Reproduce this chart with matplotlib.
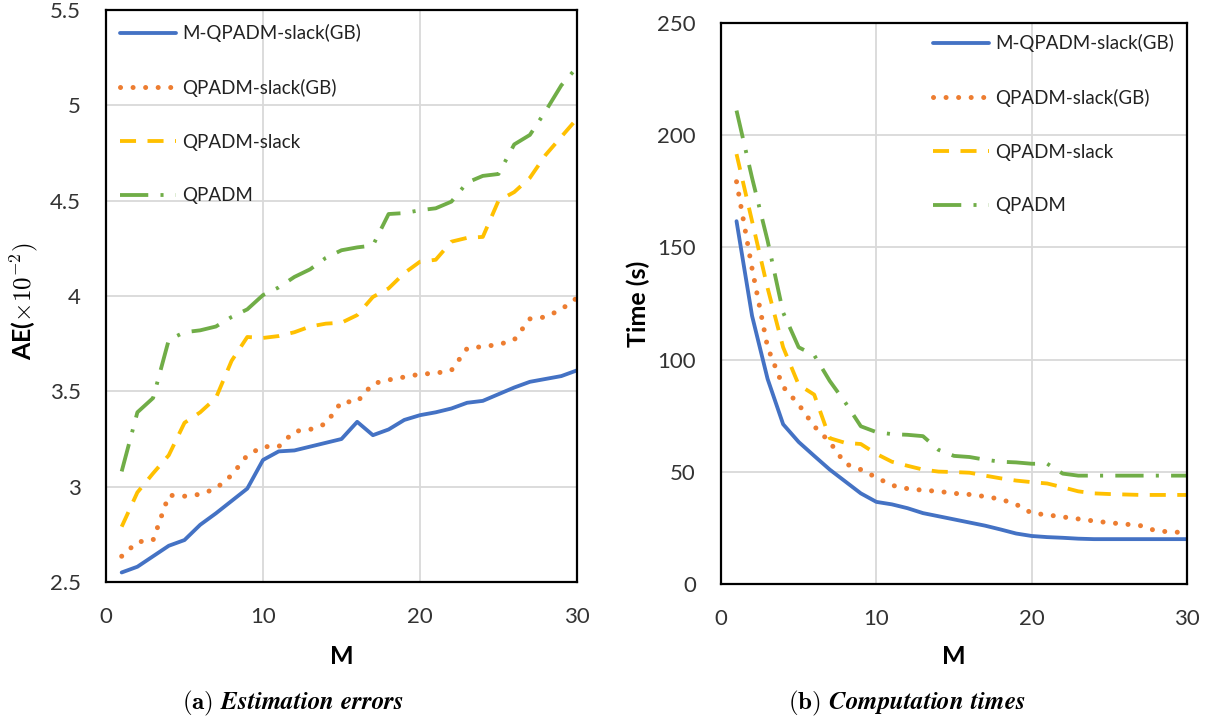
#!/usr/bin/env python3
import matplotlib
matplotlib.use("Agg")
import matplotlib.pyplot as plt

# ─── Data ──────────────────────────────────────────────────────────────────────
M = list(range(1, 31))
SERIES = ["M-QPADM-slack(GB)", "QPADM-slack(GB)", "QPADM-slack", "QPADM"]

# (a) estimation errors, AE (x 1e-2)
ae_mqpadm_slack_gb = [2.55, 2.58, 2.635, 2.69, 2.72, 2.80, 2.86, 2.925, 2.99, 3.14,
                      3.185, 3.19, 3.21, 3.23, 3.25, 3.34, 3.27, 3.30, 3.35, 3.375,
                      3.39, 3.41, 3.44, 3.45, 3.485, 3.52, 3.55, 3.565, 3.58, 3.61]
ae_qpadm_slack_gb = [2.635, 2.71, 2.72, 2.955, 2.95, 2.96, 2.99, 3.06, 3.165, 3.21,
                     3.21, 3.29, 3.30, 3.33, 3.445, 3.445, 3.54, 3.56, 3.575, 3.59,
                     3.595, 3.61, 3.725, 3.735, 3.745, 3.77, 3.88, 3.89, 3.93, 3.99]
ae_qpadm_slack = [2.79, 2.97, 3.07, 3.165, 3.335, 3.39, 3.465, 3.66, 3.785, 3.78,
                  3.79, 3.81, 3.84, 3.855, 3.86, 3.90, 3.995, 4.04, 4.12, 4.18,
                  4.19, 4.285, 4.305, 4.31, 4.50, 4.545, 4.62, 4.74, 4.835, 4.93]
ae_qpadm = [3.08, 3.39, 3.465, 3.77, 3.81, 3.82, 3.84, 3.89, 3.93, 4.005,
            4.045, 4.10, 4.14, 4.20, 4.24, 4.255, 4.265, 4.43, 4.435, 4.45,
            4.46, 4.495, 4.595, 4.63, 4.64, 4.795, 4.845, 4.97, 5.105, 5.20]

# (b) computation times, seconds
t_mqpadm_slack_gb = [161.7, 119.5, 91.4, 71.2, 63.3, 57.1, 51.0, 45.7, 40.4, 36.6,
                     35.5, 33.8, 31.6, 30.2, 28.8, 27.4, 26.0, 24.3, 22.5, 21.4,
                     20.9, 20.6, 20.2, 20.0, 20.0, 20.0, 20.0, 20.0, 20.0, 20.0]
t_qpadm_slack_gb = [179.3, 140.6, 105.5, 87.9, 80.0, 70.3, 63.3, 53.6, 51.0, 47.5,
                    44.0, 42.5, 41.8, 41.3, 40.4, 39.9, 39.0, 37.8, 35.5, 31.6,
                    30.8, 29.9, 29.0, 28.1, 27.3, 26.7, 26.0, 23.7, 23.2, 22.9]
t_qpadm_slack = [191.6, 161.7, 131.9, 105.5, 88.8, 84.4, 65.0, 62.9, 62.4, 58.0,
                 54.5, 52.7, 51.0, 50.1, 49.9, 49.6, 48.3, 47.1, 46.1, 45.4,
                 44.8, 43.1, 41.3, 40.4, 40.1, 39.9, 39.7, 39.7, 39.7, 39.7]
t_qpadm = [211.0, 181.0, 153.0, 121.0, 105.5, 102.0, 90.5, 80.9, 70.3, 67.7,
           66.8, 66.5, 65.9, 59.8, 57.1, 56.6, 55.4, 54.5, 54.2, 53.6,
           53.6, 49.2, 48.3, 48.3, 48.3, 48.3, 48.3, 48.3, 48.3, 48.3]

AE_TICKS = [2.5, 3, 3.5, 4, 4.5, 5, 5.5]
T_TICKS = [0, 50, 100, 150, 200, 250]
M_TICKS = [0, 10, 20, 30]

# ─── Styles ───────────────────────────────────────────────────────────────────
COLORS = ['#4472C4', '#ED7D31', '#FFC000', '#70AD47']
STYLES = [
    dict(linestyle='-', solid_capstyle='round'),
    dict(linestyle=(0, (0.01, 2.5)), dash_capstyle='round', lw=3.6),
    dict(linestyle=(0, (4.2, 3.0)), dash_capstyle='butt'),
    dict(linestyle=(0, (7.4, 3.2, 0.8, 3.2)), dash_capstyle='butt'),
]
LW = 2.75
TEXT = '#333333'

plt.rcParams['font.family'] = ['Lato', 'DejaVu Sans']
plt.rcParams['mathtext.fontset'] = 'cm'


def style_axes(ax, yticks, ylim):
    ax.set_xlim(0, 30)
    ax.set_ylim(*ylim)
    ax.set_xticks(M_TICKS)
    ax.set_yticks(yticks)
    ax.set_yticklabels([f"{v:g}" for v in yticks])
    ax.tick_params(length=0, labelsize=16, colors=TEXT, pad=18)
    ax.grid(True, color='#d9d9d9', lw=1.3)
    ax.set_axisbelow(True)
    for s in ax.spines.values():
        s.set_linewidth(1.6)
        s.set_color('black')


def draw(ax, ys):
    for name, y, c, st in zip(SERIES, ys, COLORS, STYLES):
        kw = dict(lw=LW)
        kw.update(st)
        ax.plot(M, y, color=c, label=name, **kw)


fig = plt.figure(figsize=(12.14, 7.21), dpi=100)
ax1 = fig.add_axes([0.0873, 0.1928, 0.388, 0.7933])
ax2 = fig.add_axes([0.5939, 0.19, 0.3839, 0.778])

draw(ax1, [ae_mqpadm_slack_gb, ae_qpadm_slack_gb, ae_qpadm_slack, ae_qpadm])
draw(ax2, [t_mqpadm_slack_gb, t_qpadm_slack_gb, t_qpadm_slack, t_qpadm])
style_axes(ax1, AE_TICKS, (2.5, 5.5))
style_axes(ax2, T_TICKS, (0, 250))

for ax, ylab, yl_x, yl_y, xl_y in [
        (ax1, r"AE($\times10^{-2})$", -0.174, 0.49, -0.131),
        (ax2, "Time (s)", -0.178, 0.5, -0.130)]:
    ax.set_xlabel("M", fontsize=18, fontweight='bold', color='black')
    ax.set_ylabel(ylab, fontsize=18, fontweight='bold', color='black')
    ax.xaxis.set_label_coords(0.5, xl_y)
    ax.xaxis.label.set_va('center')
    ax.yaxis.set_label_coords(yl_x, yl_y)
    ax.yaxis.label.set_va('center')

leg_kw = dict(frameon=False, fontsize=13.5, handlelength=3.0, handletextpad=0.3,
              labelspacing=1.95, borderpad=0, borderaxespad=0, labelcolor='#222222')
ax1.legend(loc='upper left', bbox_to_anchor=(0.03, 0.975), **leg_kw)
ax2.legend(loc='upper left', bbox_to_anchor=(0.455, 0.98), **leg_kw)

fig.text(0.241, 1 - 703 / 721, r"$\mathbf{(a)}\ \mathbfit{Estimation\ errors}$",
         ha='center', va='center', fontsize=18)
fig.text(0.747, 1 - 703 / 721, r"$\mathbf{(b)}\ \mathbfit{Computation\ times}$",
         ha='center', va='center', fontsize=18)

fig.savefig("out.png", dpi=100)
